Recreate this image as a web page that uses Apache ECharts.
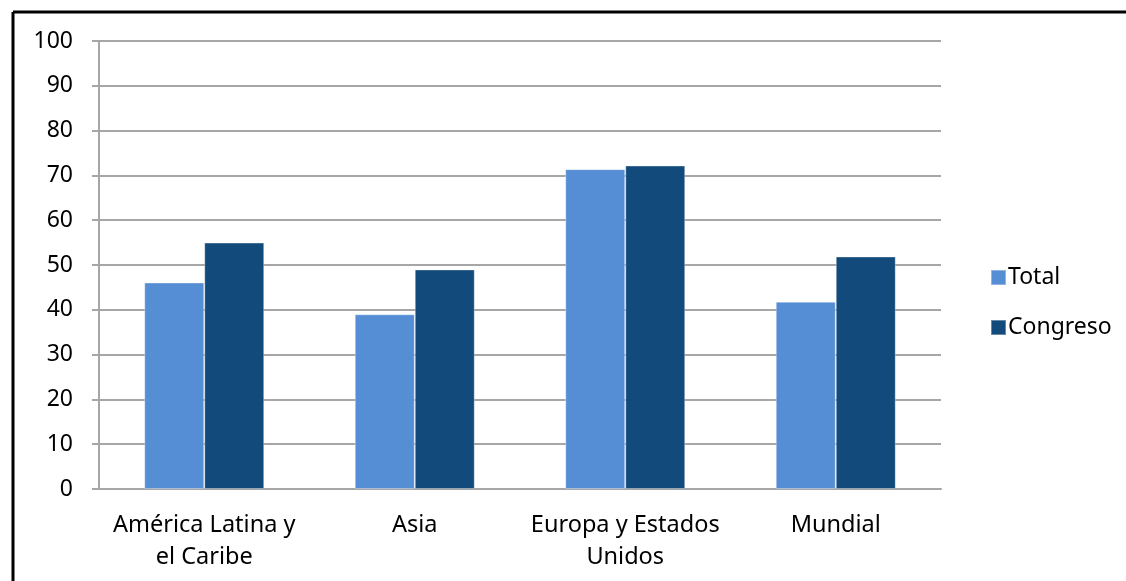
<!DOCTYPE html>
<html>
<head>
<meta charset="utf-8">
<script src="https://cdn.jsdelivr.net/npm/echarts@6/dist/echarts.min.js"></script>
<style>
html,body{margin:0;padding:0;background:#fff;}
#c{width:1126px;height:581px;}
</style>
</head>
<body>
<div id="c"></div>
<script>
const categories = ['América Latina y\nel Caribe', 'Asia', 'Europa y Estados\nUnidos', 'Mundial'];
const totalValues = [46.1, 39.0, 71.4, 41.8];
const congresoValues = [55.0, 49.0, 72.2, 51.9];
const seriesNames = ['Total', 'Congreso'];

const chart = echarts.init(document.getElementById('c'), null, {renderer: 'canvas'});
const font = 'Noto Sans';
chart.setOption({
  animation: false,
  backgroundColor: '#fff',
  graphic: [
    {type: 'line', shape: {x1: 13, y1: 12, x2: 1126, y2: 12}, style: {stroke: '#000', lineWidth: 3}},
    {type: 'line', shape: {x1: 13, y1: 12, x2: 13, y2: 581}, style: {stroke: '#000', lineWidth: 3}}
  ],
  grid: {left: 99, right: 185, top: 41, bottom: 92, containLabel: false},
  legend: {
    orient: 'vertical',
    left: 985,
    top: 261,
    itemWidth: 15,
    itemHeight: 15,
    itemGap: 27,
    icon: 'rect',
    textStyle: {fontFamily: font, fontSize: 23, color: '#000', padding: [0, 0, 0, -3]},
    data: seriesNames
  },
  xAxis: {
    type: 'category',
    data: categories,
    axisLine: {lineStyle: {color: '#a6a6a6', width: 2}},
    axisTick: {show: false},
    axisLabel: {fontFamily: font, fontSize: 23.5, color: '#000', lineHeight: 32, margin: 20, interval: 0}
  },
  yAxis: {
    type: 'value',
    min: 0, max: 100, interval: 10,
    axisLine: {show: true, lineStyle: {color: '#a6a6a6', width: 2}},
    axisTick: {show: true, length: 7, lineStyle: {color: '#a6a6a6', width: 2}},
    splitLine: {lineStyle: {color: '#a6a6a6', width: 2}},
    axisLabel: {fontFamily: font, fontSize: 23, color: '#000', margin: 26}
  },
  series: [
    {name: seriesNames[0], type: 'bar', data: totalValues, barGap: '0%', barCategoryGap: '43%',
     itemStyle: {color: '#558ed5', borderColor: 'rgba(255,255,255,0.35)', borderWidth: 1}},
    {name: seriesNames[1], type: 'bar', data: congresoValues,
     itemStyle: {color: '#114a7b', borderColor: 'rgba(255,255,255,0.35)', borderWidth: 1}}
  ]
});
</script>
</body>
</html>
